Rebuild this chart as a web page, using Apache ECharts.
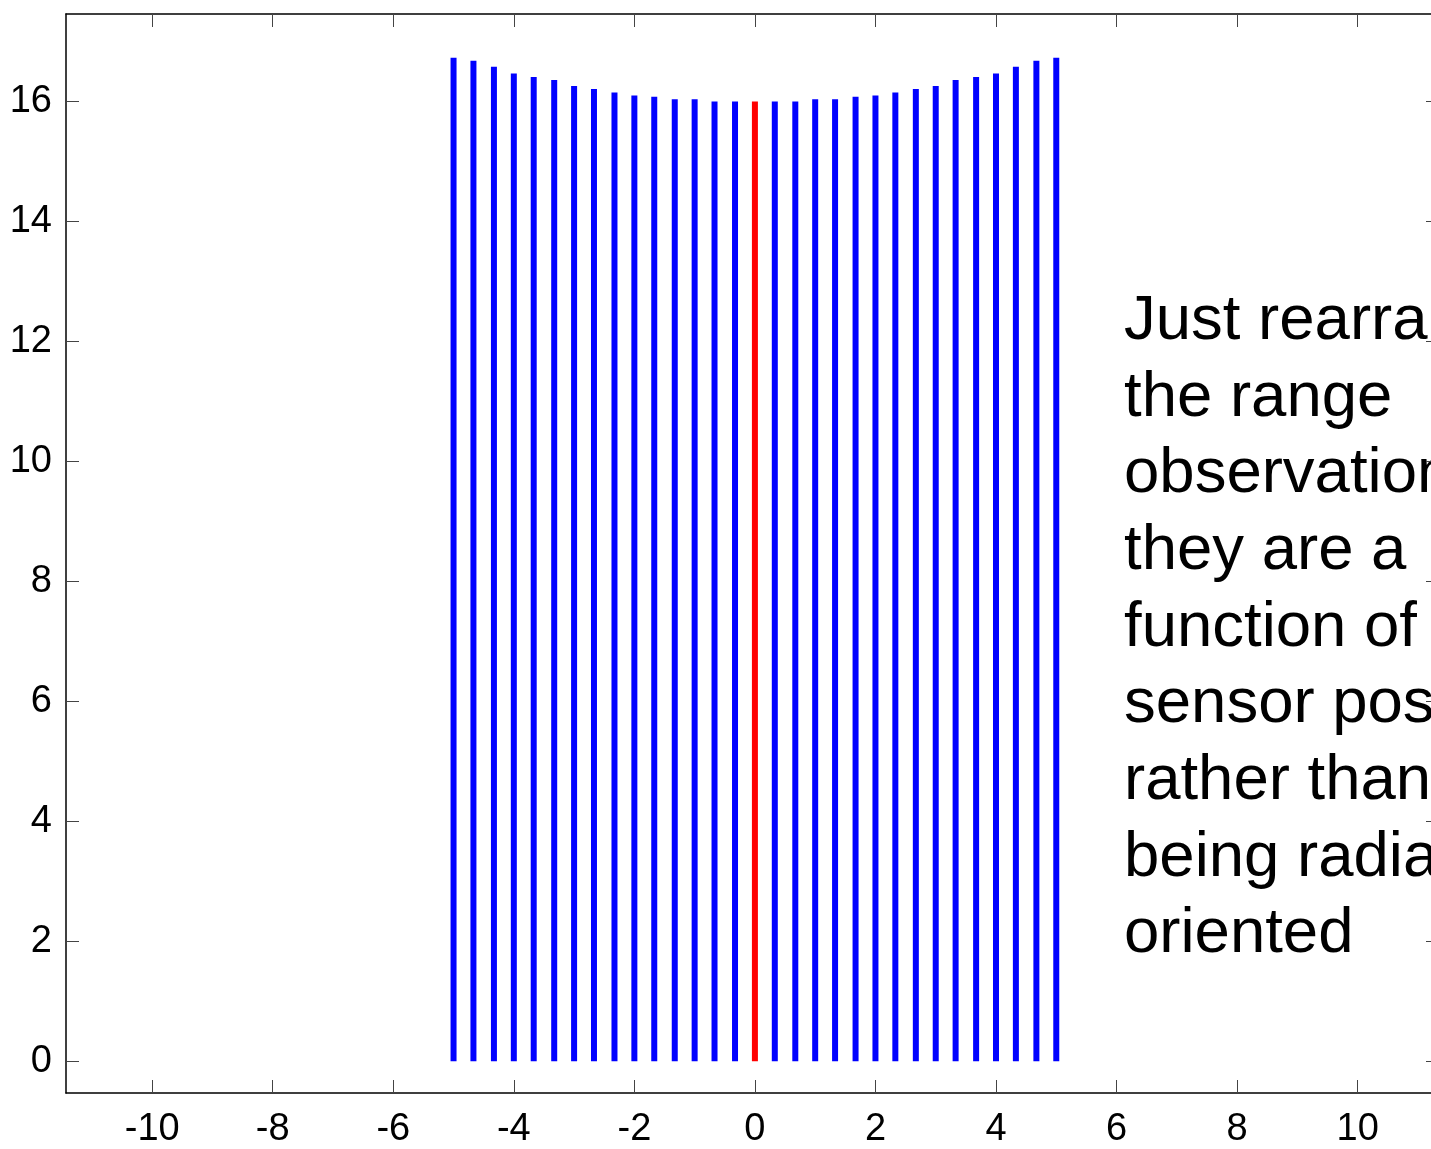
<!DOCTYPE html>
<html>
<head>
<meta charset="utf-8">
<script src="https://cdn.jsdelivr.net/npm/echarts@6/dist/echarts.min.js"></script>
<style>
html,body{margin:0;padding:0;overflow:hidden;background:#fff;width:1431px;height:1149px;}
#wrap{width:1431px;height:1149px;overflow:hidden;position:relative;}
#chart{width:1445px;height:1149px;position:absolute;left:0;top:0;}
</style>
</head>
<body>
<div id="wrap"><div id="chart"></div></div>
<script>
// sensor positions (x) and range observations (height)
const sensorX = [-5.00,-4.67,-4.33,-4.00,-3.67,-3.33,-3.00,-2.67,-2.33,-2.00,-1.67,-1.33,-1.00,-0.67,-0.33,0.00,
                 0.33,0.67,1.00,1.33,1.67,2.00,2.33,2.67,3.00,3.33,3.67,4.00,4.33,4.67,5.00];
const rangeObs = [16.73,16.68,16.58,16.47,16.41,16.36,16.26,16.21,16.15,16.10,16.08,16.04,16.04,16.00,16.00,16.00,
                  16.00,16.00,16.04,16.04,16.08,16.10,16.15,16.21,16.26,16.36,16.41,16.47,16.58,16.68,16.73];
const highlightX = 0.00;
const xTicks = [-10,-8,-6,-4,-2,0,2,4,6,8,10];
const yTicks = [0,2,4,6,8,10,12,14,16];
const noteLines = ["Just rearrange","the range","observations so","they are a","function of the","sensor position","rather than","being radially","oriented"];

const chart = echarts.init(document.getElementById('chart'));
const font = "'Liberation Sans', Arial, sans-serif";
const tickStyle = {show:true, inside:true, length:13, lineStyle:{color:'#444', width:1}};
const axisCommon = {
  type:'value', splitLine:{show:false},
  axisLine:{show:true, onZero:false, lineStyle:{color:'#000', width:1.5}}
};
chart.setOption({
  animation:false,
  grid:{left:66, right:6, top:14, bottom:50, containLabel:false},
  xAxis:[
    Object.assign({}, axisCommon, {position:'bottom', min:-11.43, max:11.35,
      axisLabel:{show:true, fontSize:38, color:'#000', fontFamily:font, margin:18, customValues: xTicks},
      axisTick:Object.assign({}, tickStyle, {customValues:xTicks})}),
    Object.assign({}, axisCommon, {position:'top', min:-11.43, max:11.35,
      axisLabel:{show:false}, axisTick:Object.assign({}, tickStyle, {customValues:xTicks})})
  ],
  yAxis:[
    Object.assign({}, axisCommon, {position:'left', min:-0.53, max:17.46,
      axisLabel:{show:true, fontSize:38, color:'#000', fontFamily:font, margin:14, customValues:yTicks},
      axisTick:Object.assign({}, tickStyle, {customValues:yTicks})}),
    Object.assign({}, axisCommon, {position:'right', min:-0.53, max:17.46,
      axisLabel:{show:false}, axisTick:Object.assign({}, tickStyle, {customValues:yTicks})})
  ],
  series:[{
    type:'custom',
    xAxisIndex:0, yAxisIndex:0,
    data: sensorX.map((x,i)=>[x, rangeObs[i]]),
    renderItem:function(params, api){
      const x = api.value(0), h = api.value(1);
      const p0 = api.coord([x,0]);
      const p1 = api.coord([x,h]);
      return {type:'line', shape:{x1:p0[0], y1:p0[1], x2:p1[0], y2:p1[1]},
        style:{stroke: Math.abs(x-highlightX)<1e-9 ? '#ff0000' : '#0000ff', lineWidth:6, lineCap:'butt'}};
    }
  }],
  graphic:[{
    type:'text', left:1124, top:283,
    style:{text: noteLines.join('\n'), font:"63.5px 'Liberation Sans', Arial, sans-serif", fill:'#000', lineHeight:76.7}
  }]
});
</script>
</body>
</html>
